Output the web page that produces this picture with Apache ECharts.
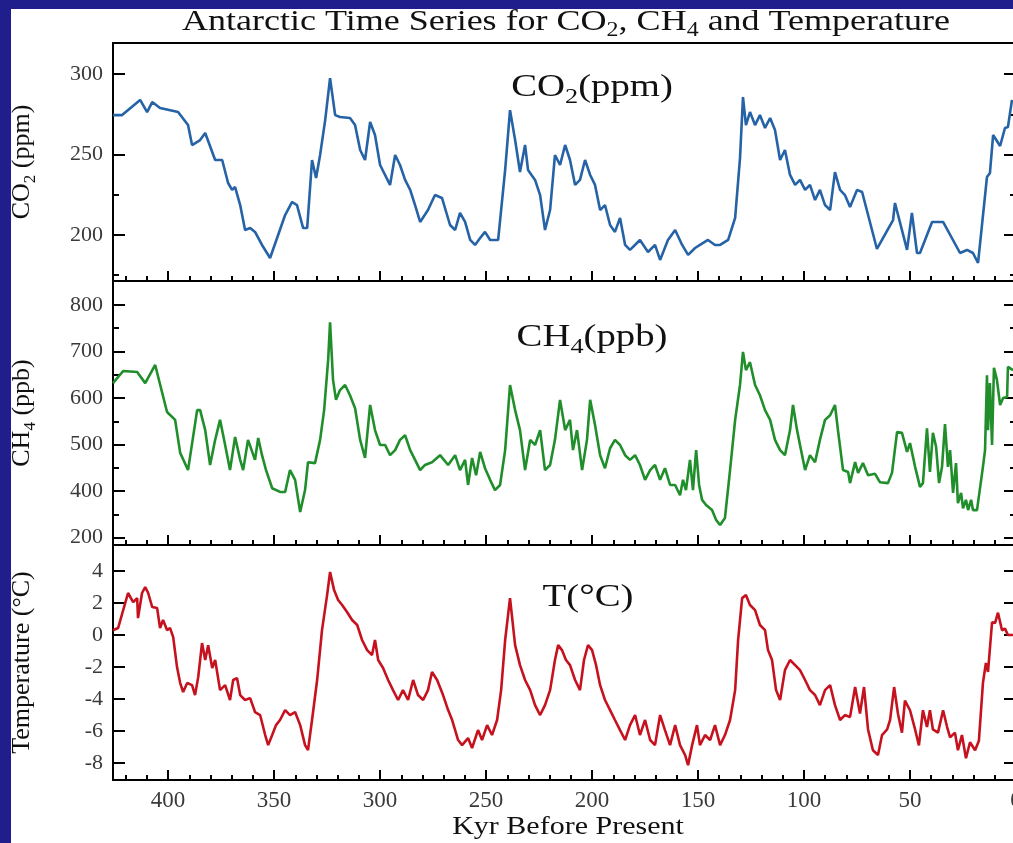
<!DOCTYPE html>
<html>
<head>
<meta charset="utf-8">
<script src="https://cdn.jsdelivr.net/npm/echarts@6/dist/echarts.min.js"></script>
<style>
  html, body { margin: 0; padding: 0; background: #201e8c; }
  #paper { position: absolute; left: 11px; top: 9px; width: 1002px; height: 834px; background: #fff; }
  #chart { position: absolute; left: 0; top: 0; width: 1013px; height: 843px; }
</style>
</head>
<body>
<div id="paper"></div>
<div id="chart"></div>
<script>
// [kyr before present, value]
const co2Record = [
  [426.0,274.5],[421.7,274.5],[413.2,283.9],[409.9,276.4],[407.5,282.6],[403.8,278.9],[395.3,276.4],
  [390.6,268.3],[388.7,255.9],[384.9,259.0],[382.5,263.4],[377.8,246.6],[374.5,246.6],[371.7,232.3],
  [369.8,228.0],[368.4,229.8],[366.0,218.6],[363.7,203.1],[361.3,204.3],[359.0,201.9],[355.7,193.8],
  [351.9,185.7],[348.1,200.0],[344.8,212.4],[341.5,220.5],[339.2,218.6],[336.3,204.3],[334.4,204.3],
  [332.1,246.6],[330.2,235.4],[328.3,249.7],[325.9,271.4],[323.6,297.5],[321.2,274.5],[318.9,273.3],
  [314.2,272.7],[311.8,268.3],[309.4,252.8],[307.1,246.6],[304.7,270.2],[302.4,262.1],[300.0,243.5],
  [295.3,231.1],[292.9,249.7],[290.6,243.5],[288.2,234.2],[285.8,228.0],[283.5,218.6],[281.1,208.1],
  [277.4,215.5],[274.1,224.8],[270.8,223.0],[267.0,206.2],[264.6,203.1],[262.3,213.7],[259.9,208.1],
  [257.5,196.9],[255.2,193.8],[252.8,198.1],[250.5,201.9],[248.1,196.9],[244.3,196.9],[241.0,240.4],
  [238.7,277.6],[236.3,259.0],[234.0,239.1],[231.6,255.9],[230.2,240.4],[226.9,234.2],[224.5,224.8],
  [222.2,203.1],[219.8,215.5],[217.5,249.7],[215.1,243.5],[212.7,255.9],[210.4,246.6],[208.0,231.1],
  [205.7,234.2],[203.3,246.6],[200.9,237.3],[198.6,231.1],[196.2,215.5],[193.9,218.6],[191.5,206.2],
  [189.2,201.9],[186.8,210.6],[184.4,193.8],[182.1,190.7],[177.4,196.9],[173.6,189.4],[170.3,193.8],
  [167.9,184.5],[164.2,196.9],[160.8,203.1],[157.5,193.8],[154.7,187.6],[151.4,191.9],[149.1,193.8],
  [145.3,196.9],[142.0,193.8],[139.6,193.8],[135.8,196.9],[132.5,210.6],[130.2,247.8],[128.8,285.7],
  [127.4,268.3],[125.5,276.4],[123.1,268.3],[120.8,274.5],[118.4,266.5],[116.0,272.7],[113.7,265.2],
  [111.3,246.6],[109.0,252.8],[106.6,237.3],[104.2,231.1],[101.9,234.2],[99.5,228.0],[97.2,231.1],
  [94.8,221.7],[92.5,228.0],[90.1,218.6],[87.7,215.5],[85.4,239.1],[83.0,228.0],[80.7,224.8],
  [78.3,217.4],[75.0,228.0],[72.6,226.7],[65.6,191.3],[58.0,209.3],[57.1,219.9],[51.4,190.7],
  [49.1,213.7],[46.7,188.8],[45.3,188.8],[39.6,208.1],[34.4,208.1],[26.4,188.8],[23.1,190.7],
  [20.3,188.8],[17.9,182.6],[13.7,236.0],[12.3,238.5],[10.8,262.1],[7.5,255.3],[5.2,266.5],
  [3.8,267.1],[1.9,283.9]
];

const ch4Record = [
  [426.0,632],[421.2,658],[414.6,656],[410.8,632],[406.1,671],[400.5,570],[396.7,553],[394.3,482],
  [390.6,445],[386.3,574],[384.9,574],[382.5,531],[380.2,456],[377.8,510],[375.5,553],[373.1,499],
  [370.8,445],[368.4,516],[366.0,467],[364.6,445],[362.3,510],[359.0,467],[357.5,514],[355.7,477],
  [353.8,445],[350.9,406],[347.2,398],[344.8,398],[342.5,445],[340.1,424],[337.7,355],[335.4,402],
  [334.0,462],[330.7,460],[328.3,510],[326.4,574],[324.5,682],[323.6,763],[322.2,639],[320.8,596],
  [318.9,617],[316.5,628],[314.2,606],[311.8,578],[309.4,510],[307.1,471],[304.7,585],[302.4,531],
  [300.0,499],[297.6,499],[295.3,477],[292.9,488],[290.6,510],[288.2,520],[285.8,488],[283.5,467],
  [281.1,445],[278.8,456],[275.5,462],[271.7,477],[267.9,456],[264.6,477],[262.3,445],[259.9,467],
  [258.5,413],[256.6,471],[254.7,434],[252.8,484],[250.5,449],[248.1,424],[245.8,402],[243.4,413],
  [241.0,488],[238.7,628],[236.3,574],[234.0,531],[231.6,445],[229.2,510],[226.9,499],[224.5,531],
  [222.2,445],[219.8,456],[217.5,510],[215.1,596],[212.7,531],[210.4,553],[209.0,488],[207.1,531],
  [204.7,445],[202.4,510],[200.9,596],[198.6,542],[196.2,477],[193.9,449],[191.5,492],[189.2,510],
  [186.8,499],[184.4,477],[182.1,467],[179.7,477],[177.4,456],[175.0,424],[172.6,445],[170.3,456],
  [167.9,424],[165.6,449],[163.2,413],[160.8,413],[158.5,391],[157.1,424],[155.7,402],[153.8,467],
  [152.4,402],[150.9,488],[149.5,413],[148.1,381],[146.2,370],[143.4,359],[141.5,338],[139.6,327],
  [137.3,342],[134.9,445],[132.5,553],[130.2,628],[128.8,699],[127.4,660],[125.5,677],[123.1,628],
  [120.8,606],[118.4,574],[116.0,553],[113.7,510],[111.3,488],[109.0,477],[106.6,531],[105.2,585],
  [103.3,531],[101.9,499],[99.5,445],[97.2,477],[94.8,462],[92.5,510],[90.1,553],[87.7,563],
  [85.4,585],[84.0,531],[81.6,445],[79.2,441],[78.3,417],[75.9,462],[74.5,439],[72.2,460],
  [69.8,434],[66.5,437],[64.2,419],[60.4,417],[58.5,439],[56.1,527],[53.8,525],[51.4,484],
  [50.0,503],[47.6,452],[45.3,409],[43.9,417],[42.0,535],[40.6,441],[39.2,525],[37.7,495],
  [36.3,417],[34.9,452],[33.5,544],[32.1,452],[31.1,488],[29.7,396],[28.3,460],[27.4,374],
  [25.9,396],[25.0,363],[23.6,381],[22.6,359],[21.2,381],[20.3,359],[18.4,359],[15.6,452],
  [14.6,488],[13.7,649],[13.2,531],[12.3,632],[11.3,499],[10.4,665],[9.0,639],[7.5,585],
  [6.1,600],[4.2,602],[3.8,667],[1.4,660]
];

const tempRecord = [
  [426.0,0.3],[423.6,0.44],[418.9,2.63],[416.5,2.06],[414.6,2.31],[414.2,1.06],[412.3,2.63],[410.8,3.0],
  [409.4,2.63],[407.5,1.75],[405.2,1.69],[403.8,0.44],[402.4,0.94],[400.5,0.31],[399.1,0.44],[397.6,-0.13],
  [395.8,-2.0],[394.3,-3.0],[392.9,-3.56],[391.0,-3.0],[388.7,-3.13],[387.3,-3.75],[385.8,-2.63],[384.0,-0.5],
  [382.5,-1.56],[381.1,-0.63],[379.2,-2.06],[377.8,-1.56],[375.5,-3.44],[373.1,-3.13],[370.8,-4.06],[369.3,-2.81],
  [367.5,-2.69],[366.0,-3.75],[363.7,-4.06],[361.3,-3.94],[359.0,-4.81],[356.6,-5.0],[354.2,-6.25],[352.8,-6.88],
  [350.9,-6.25],[349.1,-5.63],[347.2,-5.31],[344.8,-4.69],[342.5,-5.0],[340.1,-4.81],[337.7,-5.63],[335.4,-6.88],
  [334.0,-7.19],[332.1,-5.31],[329.7,-2.81],[327.4,0.31],[325.0,2.5],[323.6,3.94],[321.7,2.81],[319.8,2.19],
  [317.9,1.88],[315.6,1.44],[313.2,0.94],[310.8,0.63],[308.5,-0.31],[306.1,-0.94],[303.8,-1.25],[302.4,-0.31],
  [300.9,-1.56],[298.6,-2.06],[296.2,-2.81],[293.9,-3.44],[291.5,-4.06],[289.2,-3.44],[286.8,-4.06],[284.4,-2.81],
  [282.1,-3.75],[279.7,-4.06],[277.4,-3.44],[275.5,-2.31],[273.1,-2.81],[270.3,-3.75],[267.9,-4.69],[266.0,-5.31],
  [263.2,-6.56],[261.3,-6.88],[258.5,-6.44],[256.6,-7.06],[253.8,-5.94],[251.9,-6.56],[249.5,-5.63],[247.2,-6.25],
  [244.8,-5.31],[242.9,-3.44],[241.0,-0.31],[238.7,2.31],[236.3,-0.63],[234.0,-1.88],[231.6,-2.81],[229.2,-3.44],
  [226.9,-4.38],[224.5,-5.0],[222.2,-4.38],[219.8,-3.44],[217.5,-1.56],[216.0,-0.63],[214.2,-0.94],[212.3,-1.56],
  [210.4,-1.88],[208.0,-2.81],[205.7,-3.44],[203.8,-1.56],[201.9,-0.63],[200.0,-0.94],[198.1,-1.88],[196.2,-3.13],
  [193.9,-4.06],[191.5,-4.69],[189.2,-5.31],[186.8,-5.94],[184.4,-6.56],[182.1,-5.63],[179.7,-5.0],[177.4,-6.25],
  [175.0,-5.31],[172.6,-6.56],[170.3,-6.88],[167.9,-5.0],[165.6,-5.94],[163.2,-6.88],[160.8,-5.63],[158.5,-6.88],
  [156.1,-7.5],[154.7,-8.13],[152.8,-6.88],[150.5,-5.63],[149.1,-6.88],[146.7,-6.25],[144.3,-6.56],[142.0,-5.63],
  [139.6,-6.88],[137.3,-6.25],[134.9,-5.31],[132.5,-3.44],[131.1,-0.31],[129.2,2.31],[127.4,2.5],[125.5,1.88],
  [123.1,1.56],[120.8,0.63],[118.4,0.31],[117.0,-0.94],[115.1,-1.56],[113.2,-3.44],[111.3,-4.06],[109.0,-2.19],
  [106.6,-1.56],[104.2,-1.88],[101.9,-2.19],[99.5,-2.81],[97.2,-3.44],[94.8,-3.75],[92.5,-4.38],[90.1,-3.44],
  [87.7,-3.13],[85.4,-4.38],[83.0,-5.31],[80.7,-5.0],[78.3,-5.13],[75.9,-3.25],[73.6,-4.9],[71.7,-3.25],
  [69.8,-5.9],[67.5,-7.2],[65.1,-7.5],[63.2,-6.25],[60.8,-5.9],[59.4,-5.3],[57.5,-3.25],[55.7,-4.9],
  [53.8,-6.1],[52.4,-4.1],[50.0,-4.7],[47.6,-5.9],[45.8,-6.9],[43.9,-4.7],[42.0,-5.75],[40.6,-4.7],
  [39.2,-5.9],[36.8,-6.1],[34.4,-4.7],[32.5,-5.75],[31.1,-6.4],[28.8,-6.1],[27.4,-7.2],[25.5,-6.25],
  [23.6,-7.7],[21.7,-6.7],[19.3,-7.2],[17.5,-6.6],[15.6,-3.0],[14.2,-1.75],[13.2,-2.3],[11.3,0.8],
  [9.9,0.75],[8.5,1.4],[6.6,0.3],[5.2,0.4],[3.8,0.0],[1.4,0.0]
];

const ageTicks = [0, 50, 100, 150, 200, 250, 300, 350, 400];
const co2Ticks = [200, 250, 300];
const co2Minor = [175, 225, 275];
const ch4Ticks = [300, 400, 500, 600, 700, 800];
const ch4TickLabels = ['200', '400', '500', '600', '700', '800'];
const ch4Minor = [350, 450, 550, 650, 750];
const tempTicks = [-8, -6, -4, -2, 0, 2, 4];

const ageMinor = [];
for (let a = 10; a < 426; a += 10) if (a % 50) ageMinor.push(a);

const serif = '"Liberation Serif", "Times New Roman", serif';
const ink = '#111';
const subStyle = size => ({ fontSize: size, fontFamily: serif, verticalAlign: 'bottom', lineHeight: size, color: ink });

const panels = [
  { top: 43, height: 238, min: 171.4, max: 319.3, ticks: co2Ticks, minor: co2Minor,
    fmt: v => String(v), name: 'CO{s|2} (ppm)', color: '#2562a6', data: co2Record },
  { top: 281, height: 264, min: 283.9, max: 851.6, ticks: ch4Ticks, minor: ch4Minor,
    fmt: v => ch4TickLabels[ch4Ticks.indexOf(v)], name: 'CH{s|4} (ppb)', color: '#1f8e2b', data: ch4Record },
  { top: 545, height: 235, min: -9.06, max: 5.63, ticks: tempTicks, minor: [],
    fmt: v => String(v), name: 'Temperature (°C)', color: '#c6121e', data: tempRecord }
];

const line = { show: true, onZero: false, lineStyle: { color: '#000', width: 2 } };
const grid = [], xAxis = [], yAxis = [], series = [];

panels.forEach((p, i) => {
  grid.push({ left: 113, width: 903, top: p.top, height: p.height, outerBoundsMode: 'none', containLabel: false });
  const xBase = { gridIndex: i, type: 'value', min: 0, max: 426, inverse: true, splitLine: { show: false } };
  xAxis.push(Object.assign({}, xBase, {
    position: 'bottom', axisLine: line,
    axisTick: { inside: true, length: 10, customValues: ageTicks, lineStyle: { color: '#000', width: 2 } },
    axisLabel: { show: i === 2, customValues: ageTicks, margin: 9, fontFamily: serif, fontSize: 23, color: '#3a3a3a' }
  }));
  xAxis.push(Object.assign({}, xBase, {
    position: 'bottom', axisLine: { show: false, onZero: false },
    axisTick: { inside: true, length: 5, customValues: ageMinor, lineStyle: { color: '#000', width: 2 } },
    axisLabel: { show: false }
  }));
  xAxis.push(Object.assign({}, xBase, {
    position: 'top', axisLine: line, axisTick: { show: false }, axisLabel: { show: false }
  }));

  const yBase = { gridIndex: i, type: 'value', min: p.min, max: p.max, splitLine: { show: false } };
  const majorTick = { inside: true, length: 12, customValues: p.ticks, lineStyle: { color: '#000', width: 2 } };
  const minorTick = { inside: true, length: 6, customValues: p.minor, lineStyle: { color: '#000', width: 2 }, show: p.minor.length > 0 };
  yAxis.push(Object.assign({}, yBase, {
    position: 'left', axisLine: line, axisTick: majorTick,
    axisLabel: { customValues: p.ticks, formatter: p.fmt, margin: 10, fontFamily: serif, fontSize: 22, color: '#3a3a3a' },
    name: p.name, nameLocation: 'middle', nameGap: 74, nameRotate: 90,
    nameTextStyle: { fontFamily: serif, fontSize: 26, color: ink, lineHeight: 34, rich: { s: subStyle(17) } }
  }));
  yAxis.push(Object.assign({}, yBase, {
    position: 'left', axisLine: { show: false, onZero: false }, axisTick: minorTick, axisLabel: { show: false }
  }));
  yAxis.push(Object.assign({}, yBase, {
    position: 'right', axisLine: line, axisTick: majorTick, axisLabel: { show: false }
  }));
  yAxis.push(Object.assign({}, yBase, {
    position: 'right', axisLine: { show: false, onZero: false }, axisTick: minorTick, axisLabel: { show: false }
  }));

  series.push({
    type: 'line', xAxisIndex: i * 3, yAxisIndex: i * 4, data: p.data,
    showSymbol: false, symbol: 'none', clip: true,
    lineStyle: { color: p.color, width: 2.6 }, itemStyle: { color: p.color }
  });
});

const label = (text, x, y, size, sub, scaleX) => ({
  type: 'text', x: x, y: y, scaleX: scaleX, silent: true,
  style: {
    text: text, fontFamily: serif, fontSize: size, fill: ink,
    align: 'center', verticalAlign: 'middle', textAlign: 'center', textVerticalAlign: 'middle',
    lineHeight: Math.round(size * 1.25),
    rich: { s: { fontSize: sub, fontFamily: serif, verticalAlign: 'bottom', lineHeight: sub, fill: ink } }
  }
});

const chart = echarts.init(document.getElementById('chart'), null, { renderer: 'canvas' });
chart.setOption({
  animation: false,
  backgroundColor: 'transparent',
  grid: grid,
  xAxis: xAxis,
  yAxis: yAxis,
  series: series,
  graphic: [
    label('Antarctic Time Series for CO{s|2}, CH{s|4} and Temperature', 566, 22, 30, 20, 1.2),
    label('CO{s|2}(ppm)', 592, 88, 31, 21, 1.25),
    label('CH{s|4}(ppb)', 592, 338, 31, 21, 1.25),
    label('T(°C)', 588, 598, 31, 21, 1.25),
    label('Kyr Before Present', 568, 827, 25, 17, 1.2)
  ]
});
</script>
</body>
</html>
